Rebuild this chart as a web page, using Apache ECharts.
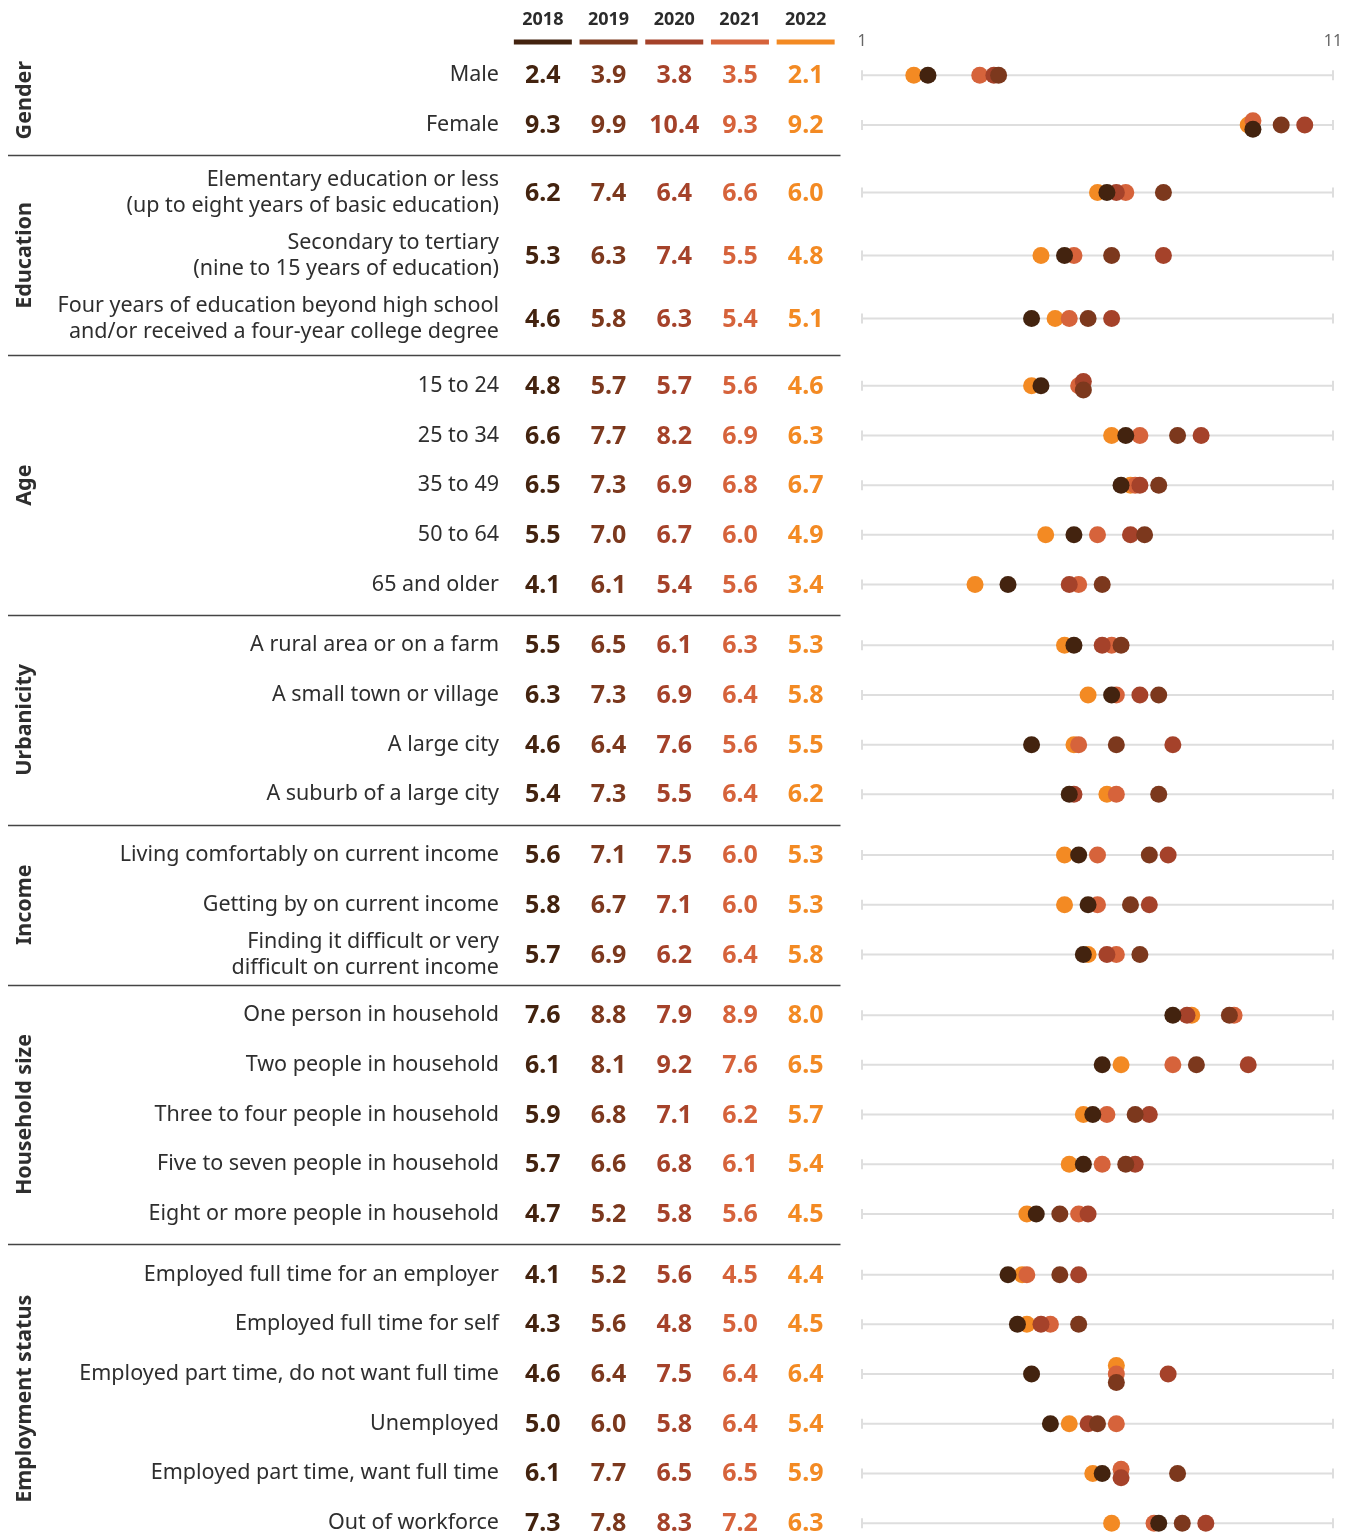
<!DOCTYPE html>
<html>
<head>
<meta charset="utf-8">
<title>Perceived unhappiness by group, 2018–2022</title>
<script src="https://cdn.jsdelivr.net/npm/echarts/dist/echarts.min.js"></script>
<style>
  html, body { margin: 0; padding: 0; background: #ffffff; }
  #chart { width: 1354px; height: 1536px; }
</style>
</head>
<body>
<div id="chart"></div>
<script>
// ---- data ----
const years = ['2018', '2019', '2020', '2021', '2022'];
const yearColors = ['#43230f', '#7c381d', '#a5422a', '#d6633b', '#f38a23'];

const groupNames = ['Gender', 'Education', 'Age', 'Urbanicity', 'Income', 'Household size', 'Employment status'];
const groupSizes = [2, 3, 5, 4, 3, 5, 6];

const rowLabels = [
  'Male', 'Female',
  'Elementary education or less\n(up to eight years of basic education)',
  'Secondary to tertiary\n(nine to 15 years of education)',
  'Four years of education beyond high school\nand/or received a four-year college degree',
  '15 to 24', '25 to 34', '35 to 49', '50 to 64', '65 and older',
  'A rural area or on a farm', 'A small town or village', 'A large city', 'A suburb of a large city',
  'Living comfortably on current income', 'Getting by on current income',
  'Finding it difficult or very\ndifficult on current income',
  'One person in household', 'Two people in household', 'Three to four people in household',
  'Five to seven people in household', 'Eight or more people in household',
  'Employed full time for an employer', 'Employed full time for self',
  'Employed part time, do not want full time', 'Unemployed',
  'Employed part time, want full time', 'Out of workforce'
];

const v2018 = [2.4, 9.3, 6.2, 5.3, 4.6, 4.8, 6.6, 6.5, 5.5, 4.1, 5.5, 6.3, 4.6, 5.4, 5.6, 5.8, 5.7, 7.6, 6.1, 5.9, 5.7, 4.7, 4.1, 4.3, 4.6, 5.0, 6.1, 7.3];
const v2019 = [3.9, 9.9, 7.4, 6.3, 5.8, 5.7, 7.7, 7.3, 7.0, 6.1, 6.5, 7.3, 6.4, 7.3, 7.1, 6.7, 6.9, 8.8, 8.1, 6.8, 6.6, 5.2, 5.2, 5.6, 6.4, 6.0, 7.7, 7.8];
const v2020 = [3.8, 10.4, 6.4, 7.4, 6.3, 5.7, 8.2, 6.9, 6.7, 5.4, 6.1, 6.9, 7.6, 5.5, 7.5, 7.1, 6.2, 7.9, 9.2, 7.1, 6.8, 5.8, 5.6, 4.8, 7.5, 5.8, 6.5, 8.3];
const v2021 = [3.5, 9.3, 6.6, 5.5, 5.4, 5.6, 6.9, 6.8, 6.0, 5.6, 6.3, 6.4, 5.6, 6.4, 6.0, 6.0, 6.4, 8.9, 7.6, 6.2, 6.1, 5.6, 4.5, 5.0, 6.4, 6.4, 6.5, 7.2];
const v2022 = [2.1, 9.2, 6.0, 4.8, 5.1, 4.6, 6.3, 6.7, 4.9, 3.4, 5.3, 5.8, 5.5, 6.2, 5.3, 5.3, 5.8, 8.0, 6.5, 5.7, 5.4, 4.5, 4.4, 4.5, 6.4, 5.4, 5.9, 6.3];

const scaleMin = 1;
const scaleMax = 11;

// ---- layout ----
const FONT = "'Noto Sans', 'Open Sans', sans-serif";
const TOP0 = 50.5;          // top edge of the first row band
const ROW_H = 49.7;
const EDU_ROW_H = 63;
const GROUP_GAP = 11;
const TABLE_LEFT = 510, TABLE_W = 328.5;
const DOTS_LEFT = 862, DOTS_W = 471;
const DOT_SIZE = 17;
const STACK_STEP = 8.5;

const values = [v2018, v2019, v2020, v2021, v2022];

// group bands; each grid runs from the first row centre to the last row centre
const groups = [];
{
  let top = TOP0, start = 0;
  groupSizes.forEach((n, g) => {
    const rh = groupNames[g] === 'Education' ? EDU_ROW_H : ROW_H;
    groups.push({
      name: groupNames[g], start, n, rh,
      bandTop: top, bandBottom: top + n * rh,
      gridTop: top + rh / 2, gridHeight: (n - 1) * rh
    });
    top += n * rh + GROUP_GAP;
    start += n;
  });
}

// vertical offsets for identical values in one row: later years sit higher
function stackOffsets(rowIdx) {
  const offs = [0, 0, 0, 0, 0];
  const seen = {};
  years.forEach((y, yi) => {
    const key = values[yi][rowIdx].toFixed(1);
    (seen[key] = seen[key] || []).push(yi);
  });
  Object.values(seen).forEach(list => {
    if (list.length < 2) return;
    const ordered = list.slice().sort((a, b) => b - a); // latest first = top
    ordered.forEach((yi, k) => {
      offs[yi] = (k - (ordered.length - 1) / 2) * STACK_STEP;
    });
  });
  return offs;
}

const grid = [], xAxis = [], yAxis = [], series = [], graphic = [];

groups.forEach((grp, g) => {
  const labels = rowLabels.slice(grp.start, grp.start + grp.n);
  const tIdx = 2 * g, dIdx = 2 * g + 1;
  const halfRow = grp.rh / 2;

  grid.push({ left: TABLE_LEFT, width: TABLE_W, top: grp.gridTop, height: grp.gridHeight });
  grid.push({ left: DOTS_LEFT, width: DOTS_W, top: grp.gridTop, height: grp.gridHeight });

  // table columns (years)
  const rich = {
    h: { fontSize: 18, fontWeight: 'bold', color: '#2b2b2b', fontFamily: FONT, lineHeight: 40 }
  };
  years.forEach((y, yi) => {
    rich['u' + yi] = { width: 58, height: 5, lineHeight: 5, backgroundColor: yearColors[yi] };
  });
  xAxis.push({
    gridIndex: tIdx, type: 'category', data: years, position: 'top',
    axisLine: { show: false }, axisTick: { show: false }, splitLine: { show: false },
    axisLabel: {
      show: g === 0, margin: 6 + halfRow, interval: 0,
      formatter: (val, idx) => '{h|' + val + '}\n{u' + idx + '|}',
      rich
    }
  });
  // dot scale
  xAxis.push({
    gridIndex: dIdx, type: 'value', min: scaleMin, max: scaleMax, interval: 10, position: 'top',
    axisLine: { show: false }, axisTick: { show: false }, splitLine: { show: false },
    axisLabel: { show: g === 0, margin: halfRow + 1, fontSize: 16, color: '#666', fontFamily: FONT }
  });

  yAxis.push({
    gridIndex: tIdx, type: 'category', data: labels, inverse: true, boundaryGap: false,
    axisLine: { show: false }, axisTick: { show: false }, splitLine: { show: false },
    axisLabel: { margin: 11, fontSize: 21.5, color: '#2e2e2e', fontFamily: FONT, lineHeight: 26, align: 'right', interval: 0 },
    name: grp.name, nameLocation: 'middle', nameRotate: 90, nameGap: 474,
    nameTextStyle: { fontSize: 21.5, fontWeight: 'bold', color: '#2e2e2e', fontFamily: FONT }
  });
  yAxis.push({
    gridIndex: dIdx, type: 'category', data: labels, inverse: true, boundaryGap: false, show: false
  });

  // light row guides with end ticks
  series.push({
    type: 'custom', xAxisIndex: dIdx, yAxisIndex: dIdx, silent: true, z: 1, clip: false,
    data: labels.map((_, i) => [scaleMin, i]),
    encode: { x: 0, y: 1 },
    renderItem: (params, api) => {
      const r = api.value(1);
      const a = api.coord([scaleMin, r]);
      const b = api.coord([scaleMax, r]);
      const st = { stroke: '#dedede', lineWidth: 2 };
      return {
        type: 'group', children: [
          { type: 'line', shape: { x1: a[0], y1: a[1], x2: b[0], y2: b[1] }, style: st },
          { type: 'line', shape: { x1: a[0], y1: a[1] - 5, x2: a[0], y2: a[1] + 5 }, style: st },
          { type: 'line', shape: { x1: b[0], y1: b[1] - 5, x2: b[0], y2: b[1] + 5 }, style: st }
        ]
      };
    }
  });

  const offsByRow = labels.map((_, i) => stackOffsets(grp.start + i));

  // dots: earliest year drawn last so it sits on top
  for (let yi = years.length - 1; yi >= 0; yi--) {
    series.push({
      type: 'scatter', name: years[yi], xAxisIndex: dIdx, yAxisIndex: dIdx,
      symbol: 'circle', symbolSize: DOT_SIZE, z: 10 + (years.length - yi), clip: false,
      itemStyle: { color: yearColors[yi], opacity: 1 },
      data: labels.map((_, i) => ({
        value: [values[yi][grp.start + i], i],
        symbolOffset: [0, offsByRow[i][yi]]
      }))
    });
  }

  // value columns
  years.forEach((y, yi) => {
    series.push({
      type: 'scatter', name: y + ' values', xAxisIndex: tIdx, yAxisIndex: tIdx,
      symbolSize: 0, itemStyle: { color: 'rgba(0,0,0,0)', opacity: 1 }, silent: true, clip: false,
      data: labels.map((_, i) => [yi, i, values[yi][grp.start + i]]),
      label: {
        show: true, position: 'inside', offset: [0, 1],
        formatter: p => p.value[2].toFixed(1),
        fontSize: 25, fontWeight: 'bold', color: yearColors[yi], fontFamily: FONT
      }
    });
  });

  // divider above every group but the first
  if (g > 0) {
    const prev = groups[g - 1];
    const y = Math.round((prev.bandBottom + grp.bandTop) / 2) + 0.5;
    graphic.push({
      type: 'line', silent: true,
      shape: { x1: 8, y1: y, x2: TABLE_LEFT + TABLE_W + 2, y2: y },
      style: { stroke: '#444', lineWidth: 1.5 }
    });
  }
});

const chart = echarts.init(document.getElementById('chart'), null, { renderer: 'canvas' });
chart.setOption({
  backgroundColor: '#ffffff',
  animation: false,
  textStyle: { fontFamily: FONT },
  grid, xAxis, yAxis, series, graphic
});
</script>
</body>
</html>
